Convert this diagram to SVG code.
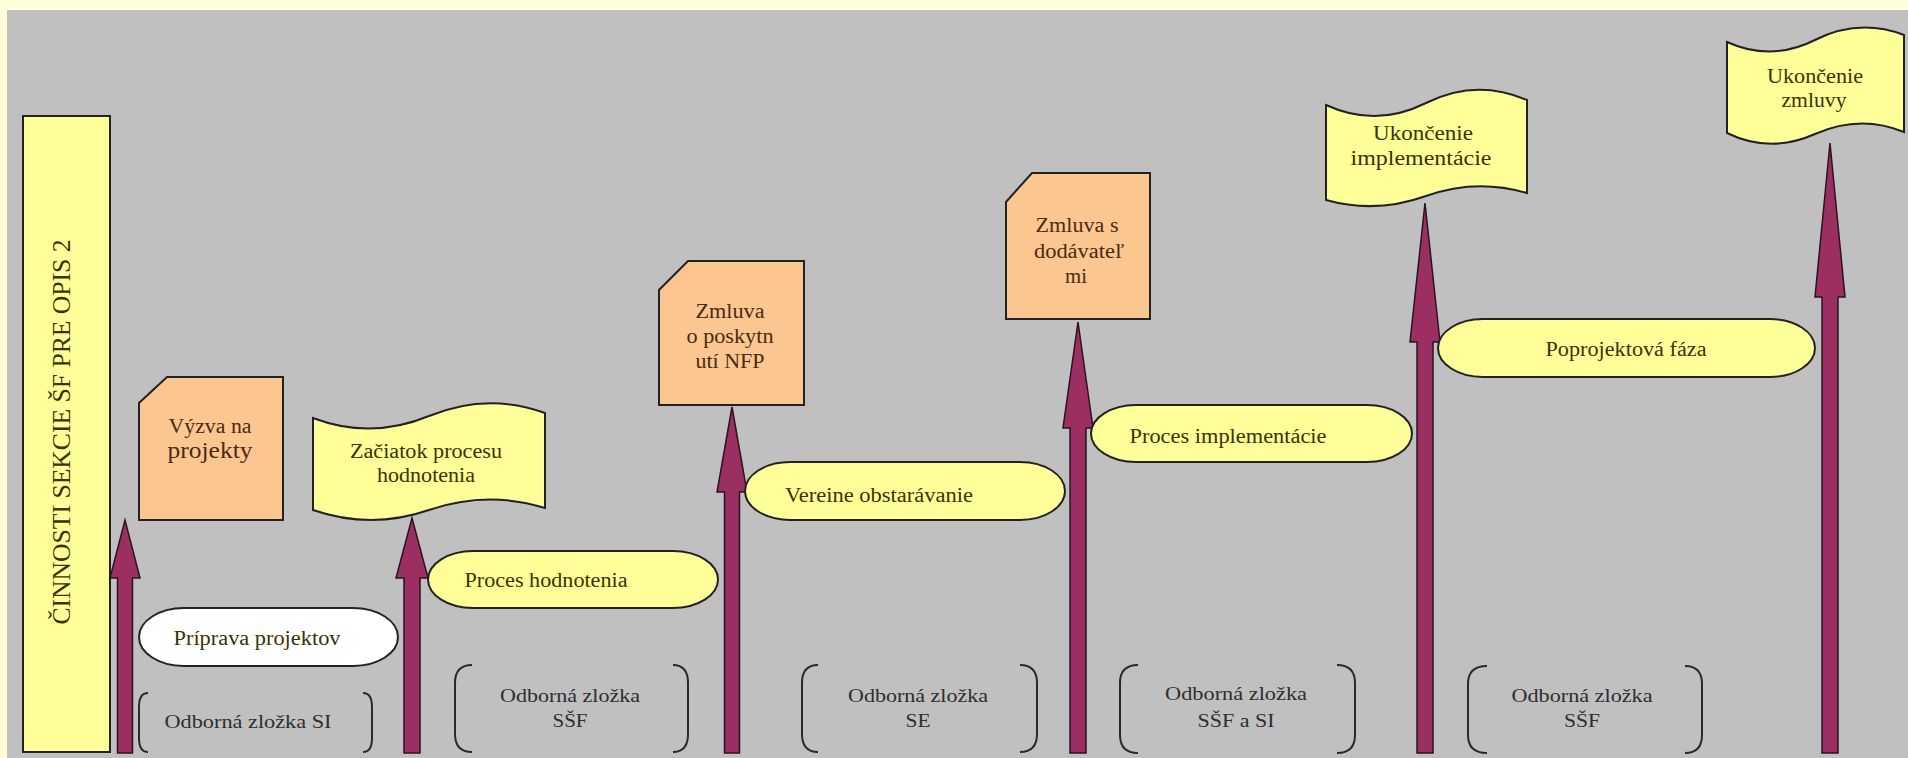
<svg xmlns="http://www.w3.org/2000/svg" width="1908" height="758" viewBox="0 0 1908 758">
<style>
text{font-family:"Liberation Serif","Times New Roman",serif;}
.t{font-size:20px;fill:#3a3300;text-anchor:middle;}
.to{font-size:20px;fill:#4a2a12;text-anchor:middle;}
.tb{font-size:19px;fill:#2e2e2e;text-anchor:middle;}
.yel{fill:#FFFF99;stroke:#222;stroke-width:2;}
.org{fill:#FCC690;stroke:#222;stroke-width:2;}
.wht{fill:#FFFFFF;stroke:#222;stroke-width:2;}
.br{fill:none;stroke:#2a2a2a;stroke-width:2;}
.arr{fill:#9B2F62;stroke:#2a1420;stroke-width:1.5;}
</style>
<rect x="0" y="0" width="1908" height="758" fill="#FFFFDC"/>
<rect x="7" y="10" width="1901" height="748" fill="#C0C0C0"/>

<g id="title">
<rect x="23" y="116" width="87" height="636" class="yel"/>
<text transform="translate(70,432) rotate(-90)" x="0" y="0" style="font-size:26px;fill:#3a3300;text-anchor:middle;" textLength="385" lengthAdjust="spacingAndGlyphs">ČINNOSTI SEKCIE ŠF PRE OPIS 2</text>
</g>

<g id="connectors">
<polygon class="arr" points="117.5,753 117.5,578 110,578 125,520 140,578 132.5,578 132.5,753"/>
<polygon class="arr" points="404,753 404,578 396,578 412,518 428,578 420,578 420,753"/>
<polygon class="arr" points="724.5,753 724.5,492 717,492 732,407 747,492 739.5,492 739.5,753"/>
<polygon class="arr" points="1070,753 1070,428 1063,428 1078,322 1093,428 1086,428 1086,753"/>
<polygon class="arr" points="1417,753 1417,342 1410,342 1425,203 1440,342 1433,342 1433,753"/>
<polygon class="arr" points="1822,753 1822,297 1815,297 1830,143 1845,297 1838,297 1838,753"/>
</g>

<g id="vyzva">
<path class="org" d="M167,377 H283 V520 H139 V403 Z"/>
<text class="to" x="210" y="433" textLength="83" lengthAdjust="spacingAndGlyphs">Výzva na</text>
<text class="to" x="210" y="458" style="font-size:24px" textLength="85" lengthAdjust="spacingAndGlyphs">projekty</text>
</g>

<g id="zaciatok">
<path class="yel" d="M313,418 Q371,440 429,416 T545,413 L545,508 Q487,490 429,510 T313,510 Z"/>
<text class="t" x="426" y="458" textLength="152" lengthAdjust="spacingAndGlyphs">Začiatok procesu</text>
<text class="t" x="426" y="482" textLength="98" lengthAdjust="spacingAndGlyphs">hodnotenia</text>
</g>

<g id="zmluva-nfp">
<path class="org" d="M688,261 H804 V405 H659 V290 Z"/>
<text class="to" x="730" y="318" textLength="69" lengthAdjust="spacingAndGlyphs">Zmluva</text>
<text class="to" x="730" y="343" textLength="87" lengthAdjust="spacingAndGlyphs">o poskytn</text>
<text class="to" x="730" y="368" textLength="69" lengthAdjust="spacingAndGlyphs">utí NFP</text>
</g>

<g id="zmluva-dodavatel">
<path class="org" d="M1032,173 H1150 V319 H1006 V202 Z"/>
<text class="to" x="1077" y="232" textLength="83" lengthAdjust="spacingAndGlyphs">Zmluva s</text>
<text class="to" x="1079" y="258" textLength="90" lengthAdjust="spacingAndGlyphs">dodávateľ</text>
<text class="to" x="1076" y="283" textLength="22" lengthAdjust="spacingAndGlyphs">mi</text>
</g>

<g id="ukoncenie-impl">
<path class="yel" d="M1326,105 Q1376,128 1426,103 T1527,100 L1527,193 Q1476,178 1426,196 T1326,200 Z"/>
<text class="t" x="1423" y="140" textLength="100" lengthAdjust="spacingAndGlyphs">Ukončenie</text>
<text class="t" x="1421" y="165" textLength="141" lengthAdjust="spacingAndGlyphs">implementácie</text>
</g>

<g id="ukoncenie-zmluvy">
<path class="yel" d="M1727,42 Q1771,62 1815,40 T1904,35 L1904,132 Q1860,114 1815,134 T1727,133 Z"/>
<text class="t" x="1815" y="83" textLength="96" lengthAdjust="spacingAndGlyphs">Ukončenie</text>
<text class="t" x="1814" y="107" textLength="65" lengthAdjust="spacingAndGlyphs">zmluvy</text>
</g>

<g id="priprava">
<rect class="wht" x="139" y="608" width="259" height="58" rx="45" ry="29"/>
<text class="t" x="257" y="645" textLength="167" lengthAdjust="spacingAndGlyphs">Príprava projektov</text>
</g>

<g id="proces-hodnotenia">
<rect class="yel" x="428" y="551" width="290" height="57" rx="45" ry="28.5"/>
<text class="t" x="546" y="587" textLength="163" lengthAdjust="spacingAndGlyphs">Proces hodnotenia</text>
</g>

<g id="vereine">
<rect class="yel" x="745" y="462" width="320" height="58" rx="45" ry="29"/>
<text class="t" x="879" y="502" textLength="188" lengthAdjust="spacingAndGlyphs">Vereine obstarávanie</text>
</g>

<g id="proces-impl">
<rect class="yel" x="1091" y="405" width="321" height="57" rx="45" ry="28.5"/>
<text class="t" x="1228" y="443" textLength="197" lengthAdjust="spacingAndGlyphs">Proces implementácie</text>
</g>

<g id="poprojektova">
<rect class="yel" x="1438" y="319" width="377" height="58" rx="45" ry="29"/>
<text class="t" x="1626" y="356" textLength="161" lengthAdjust="spacingAndGlyphs">Poprojektová fáza</text>
</g>

<g id="zlozka-si">
<path class="br" d="M148,693 Q139,693 139,707 L139,738 Q139,752 148,752"/>
<path class="br" d="M363,693 Q372,693 372,707 L372,738 Q372,752 363,752"/>
<text class="tb" x="248" y="728" textLength="167" lengthAdjust="spacingAndGlyphs">Odborná zložka SI</text>
</g>

<g id="zlozka-ssf-1">
<path class="br" d="M472,665 Q455,665 455,683 L455,734 Q455,752 472,752"/>
<path class="br" d="M673,665 Q688,665 688,683 L688,734 Q688,752 673,752"/>
<text class="tb" x="570" y="702" textLength="140" lengthAdjust="spacingAndGlyphs">Odborná zložka</text>
<text class="tb" x="570" y="727" textLength="35" lengthAdjust="spacingAndGlyphs">SŠF</text>
</g>

<g id="zlozka-se">
<path class="br" d="M818,665 Q802,665 802,683 L802,734 Q802,752 818,752"/>
<path class="br" d="M1020,665 Q1037,665 1037,683 L1037,734 Q1037,752 1020,752"/>
<text class="tb" x="918" y="702" textLength="140" lengthAdjust="spacingAndGlyphs">Odborná zložka</text>
<text class="tb" x="918" y="727" textLength="25" lengthAdjust="spacingAndGlyphs">SE</text>
</g>

<g id="zlozka-ssf-si">
<path class="br" d="M1138,665 Q1120,665 1120,683 L1120,735 Q1120,753 1138,753"/>
<path class="br" d="M1337,665 Q1355,665 1355,683 L1355,735 Q1355,753 1337,753"/>
<text class="tb" x="1236" y="700" textLength="142" lengthAdjust="spacingAndGlyphs">Odborná zložka</text>
<text class="tb" x="1236" y="727" textLength="77" lengthAdjust="spacingAndGlyphs">SŠF a SI</text>
</g>

<g id="zlozka-ssf-2">
<path class="br" d="M1487,666 Q1468,666 1468,684 L1468,735 Q1468,753 1487,753"/>
<path class="br" d="M1685,666 Q1702,666 1702,684 L1702,735 Q1702,753 1685,753"/>
<text class="tb" x="1582" y="702" textLength="141" lengthAdjust="spacingAndGlyphs">Odborná zložka</text>
<text class="tb" x="1582" y="727" textLength="36" lengthAdjust="spacingAndGlyphs">SŠF</text>
</g>
</svg>
